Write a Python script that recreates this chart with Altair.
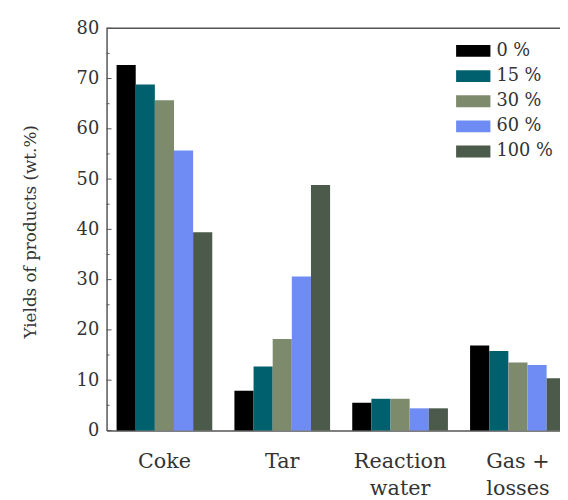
import altair as alt
import pandas as pd

categories = ["Coke", "Tar", "Reaction water", "Gas + losses"]
series = ["0 %", "15 %", "30 %", "60 %", "100 %"]
colors = ["#000000", "#00606e", "#7d8a6c", "#6f8cf5", "#4b5a4b"]

v0 = [72.7, 7.9, 5.5, 16.9]
v15 = [68.8, 12.7, 6.3, 15.8]
v30 = [65.7, 18.2, 6.3, 13.5]
v60 = [55.7, 30.6, 4.4, 13.0]
v100 = [39.4, 48.8, 4.4, 10.4]

major_ticks = [0, 10, 20, 30, 40, 50, 60, 70, 80]
minor_ticks = [5, 15, 25, 35, 45, 55, 65, 75]

rows = []
for s, vals in zip(series, [v0, v15, v30, v60, v100]):
    for c, v in zip(categories, vals):
        rows.append({"Product": c, "Series": s, "Yield": v})
df = pd.DataFrame(rows)

FONT = "DejaVu Serif"
TXT = "#333333"

yscale = alt.Scale(domain=[0, 80], nice=False, zero=True)

bars = alt.Chart(df).mark_bar(stroke=None).encode(
    x=alt.X("Product:N", sort=categories,
            scale=alt.Scale(paddingInner=0.188, paddingOuter=0.085),
            axis=alt.Axis(title=None, labelAngle=0, ticks=False, labelPadding=21,
                          labelFont=FONT, labelFontSize=21, labelColor=TXT,
                          labelLineHeight=27, domainColor="#555", domainWidth=1.5,
                          labelExpr="datum.label == 'Gas + losses' ? ['Gas +', 'losses'] : split(datum.label, ' ')")),
    xOffset=alt.XOffset("Series:N", sort=series, scale=alt.Scale(paddingInner=0, paddingOuter=0)),
    y=alt.Y("Yield:Q", scale=yscale,
            axis=alt.Axis(title="Yields of products (wt.%)", values=major_ticks, ticks=False,
                          grid=False, labelFont=FONT, labelFontSize=18, labelColor=TXT,
                          labelPadding=8, domainColor="#555", domainWidth=1.5,
                          titleFont=FONT, titleFontSize=17, titleFontWeight="normal",
                          titleColor=TXT, titleX=-77, titleY=206, titleAlign="center",
                          titleBaseline="middle")),
    color=alt.Color("Series:N", sort=series,
                    scale=alt.Scale(domain=series, range=colors),
                    legend=alt.Legend(title=None, orient="none", legendX=363, legendY=14,
                                      symbolType="M-2.9,-1H2.9V1H-2.9Z", symbolSize=144,
                                      symbolStrokeWidth=0, labelOffset=14.5,
                                      labelFont=FONT, labelFontSize=18, labelColor=TXT,
                                      rowPadding=7.5, padding=0)),
)

top_rule = alt.Chart(pd.DataFrame({"y": [80]})).mark_rule(color="#555", strokeWidth=1.5).encode(
    y=alt.Y("y:Q", scale=yscale)
)

major = alt.Chart(pd.DataFrame({"t": major_ticks})).mark_rule(color="#555", strokeWidth=1).encode(
    y=alt.Y("t:Q", scale=yscale), x=alt.value(0), x2=alt.value(5)
)
minor = alt.Chart(pd.DataFrame({"t": minor_ticks})).mark_rule(color="#555", strokeWidth=1).encode(
    y=alt.Y("t:Q", scale=yscale), x=alt.value(0), x2=alt.value(3)
)

chart = alt.layer(bars, top_rule, major, minor).properties(
    width=476, height=408,
    autosize=alt.AutoSizeParams(type="none"),
    padding={"left": 100, "top": 17, "right": -16, "bottom": 67},
).configure_view(stroke=None)

chart.save("out.html", embed_options={"renderer": "svg", "actions": False})
